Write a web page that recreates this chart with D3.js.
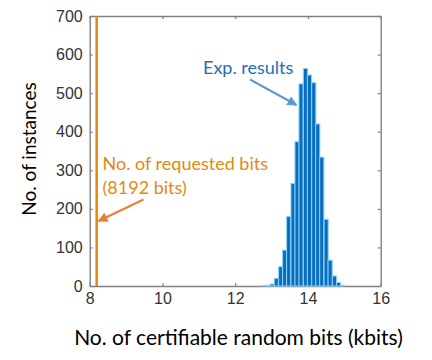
<!DOCTYPE html>
<html>
<head>
<meta charset="utf-8">
<script src="https://cdn.jsdelivr.net/npm/d3@7"></script>
<style>
  html, body { margin: 0; padding: 0; background: #ffffff; }
  svg { display: block; }
</style>
</head>
<body>
<svg id="chart" width="432" height="360"></svg>
<script>
// ---- data ----
const binCenters = [12.79, 12.90, 13.02, 13.13, 13.25, 13.36, 13.47, 13.59, 13.70, 13.81,
                    13.93, 14.04, 14.16, 14.27, 14.38, 14.50, 14.61, 14.73, 14.84, 14.95];
const counts = [1, 2, 5, 20, 50, 93, 180, 266, 374, 524,
                564, 547, 527, 420, 334, 173, 67, 26, 9, 2];
const binWidth = 0.114;
const xTicks = [8, 10, 12, 14, 16];
const yTicks = [0, 100, 200, 300, 400, 500, 600, 700];
const requestedBits = 8.192;
const xTitle = "No. of certifiable random bits (kbits)";
const yTitle = "No. of instances";
const expLabel = "Exp. results";
const reqLabel = ["No. of requested bits", "(8192 bits)"];

// ---- layout ----
const svg = d3.select("#chart");
const L = 89.7, R = 380.7, T = 16, B = 286;
const x = d3.scaleLinear().domain([8, 16]).range([L, R]);
const y = d3.scaleLinear().domain([0, 700]).range([B, T]);

const axisColor = "#808080";
const tickFont = "'Liberation Sans', Arial, sans-serif";
const textFont = "Lato, 'Open Sans', sans-serif";

function styleAxis(g, showLabels) {
  g.select(".domain").attr("stroke", axisColor).attr("stroke-width", 1.4);
  g.selectAll(".tick line").attr("stroke", axisColor).attr("stroke-width", 1.2);
  g.selectAll(".tick text")
    .attr("fill", "#333333")
    .style("font-family", tickFont)
    .style("font-size", "16px")
    .style("display", showLabels ? null : "none");
}

// axes (box with inward ticks)
svg.append("g").attr("transform", `translate(0,${B})`)
  .call(d3.axisBottom(x).tickValues(xTicks).tickFormat(d3.format("d")).tickSizeInner(-3).tickSizeOuter(0).tickPadding(7))
  .call(g => styleAxis(g, true));
svg.append("g").attr("transform", `translate(0,${T})`)
  .call(d3.axisTop(x).tickValues(xTicks).tickSizeInner(-3).tickSizeOuter(0))
  .call(g => styleAxis(g, false));
svg.append("g").attr("transform", `translate(${L},0)`)
  .call(d3.axisLeft(y).tickValues(yTicks).tickFormat(d3.format("d")).tickSizeInner(-3).tickSizeOuter(0).tickPadding(7))
  .call(g => styleAxis(g, true));
svg.append("g").attr("transform", `translate(${R},0)`)
  .call(d3.axisRight(y).tickValues(yTicks).tickSizeInner(-3).tickSizeOuter(0))
  .call(g => styleAxis(g, false));

// histogram bars
const bw = x(binWidth) - x(0);
svg.append("g").selectAll("rect")
  .data(binCenters.map((c, i) => ({c, v: counts[i]})))
  .join("rect")
  .attr("x", d => x(d.c) - bw / 2)
  .attr("width", bw)
  .attr("y", d => y(d.v))
  .attr("height", d => y(0) - y(d.v))
  .attr("fill", "#0b6dbf")
  .attr("stroke", "#8ad4f6")
  .attr("stroke-width", 1);

// requested-bits vertical line
svg.append("line")
  .attr("x1", x(requestedBits)).attr("x2", x(requestedBits))
  .attr("y1", y(0)).attr("y2", y(700))
  .attr("stroke", "#e8870f").attr("stroke-width", 2.5);

// arrowheads
const defs = svg.append("defs");
function marker(id, color) {
  defs.append("marker").attr("id", id)
    .attr("viewBox", "0 0 10 10").attr("refX", 9).attr("refY", 5)
    .attr("markerWidth", 5).attr("markerHeight", 5)
    .attr("markerUnits", "strokeWidth")
    .attr("orient", "auto")
    .append("path").attr("d", "M0,0 L10,5 L0,10 Z").attr("fill", color);
}
marker("arrBlue", "#5b9bd5");
marker("arrOrange", "#ed7d31");

// Exp. results annotation
svg.append("text").attr("x", 203).attr("y", 74)
  .attr("fill", "#1f6fb8").style("font-family", textFont).style("font-size", "18px")
  .text(expLabel);
svg.append("line")
  .attr("x1", 250).attr("y1", 79.5).attr("x2", 296.5).attr("y2", 105)
  .attr("stroke", "#5b9bd5").attr("stroke-width", 2)
  .attr("marker-end", "url(#arrBlue)");

// requested bits annotation
svg.append("text").attr("x", 102.5).attr("y", 170)
  .attr("fill", "#e6870f").style("font-family", textFont).style("font-size", "18px")
  .text(reqLabel[0]);
svg.append("text").attr("x", 102.5).attr("y", 194)
  .attr("fill", "#e6870f").style("font-family", textFont).style("font-size", "18px")
  .text(reqLabel[1]);
svg.append("line")
  .attr("x1", 143.5).attr("y1", 199.5).attr("x2", 98.5).attr("y2", 221)
  .attr("stroke", "#ed7d31").attr("stroke-width", 2)
  .attr("marker-end", "url(#arrOrange)");

// axis titles
svg.append("text")
  .attr("transform", `translate(36,149) rotate(-90)`)
  .attr("text-anchor", "middle")
  .attr("fill", "#000").style("font-family", textFont).style("font-size", "19px")
  .text(yTitle);
svg.append("text")
  .attr("x", 238.5).attr("y", 345)
  .attr("text-anchor", "middle")
  .attr("fill", "#000").style("font-family", textFont).style("font-size", "21px")
  .text(xTitle);
</script>
</body>
</html>
